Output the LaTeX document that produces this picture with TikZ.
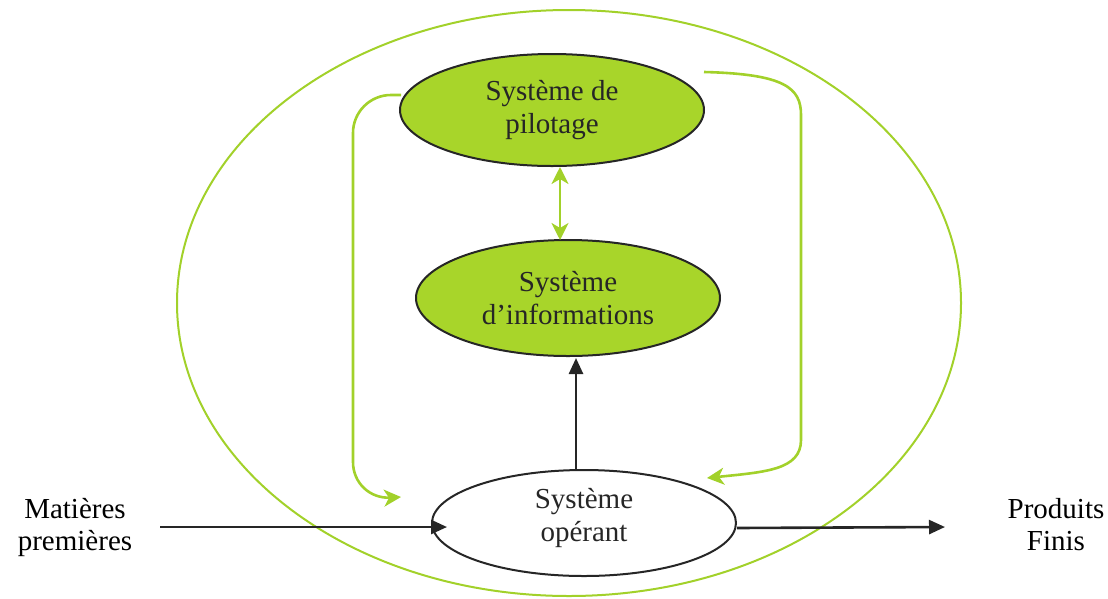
\documentclass[tikz,border=0pt]{standalone}
\usepackage{fontspec}
\setmainfont{Liberation Serif}
\usetikzlibrary{shapes.geometric,arrows.meta}
\definecolor{lime}{HTML}{A8D52A}
\definecolor{limeline}{HTML}{A2D12A}
\definecolor{ink}{HTML}{262626}
\tikzset{
  sysbox/.style={ellipse, draw=ink, line width=2pt, inner sep=0pt,
    minimum width=304pt, font=\fontsize{29}{33}\selectfont, text=ink, align=center},
  greenbox/.style={sysbox, fill=lime},
  feedback/.style={draw=limeline, line width=2.6pt, -{Stealth[length=17pt,width=17pt,inset=5pt]}},
  flow/.style={draw=ink, line width=2.6pt, -{Triangle[length=16pt,width=14pt]}},
  label/.style={font=\fontsize{29}{32}\selectfont, text=black, align=center}
}
\begin{document}
\begin{tikzpicture}[x=1pt,y=-1pt]
  \useasboundingbox (0,0) rectangle (1108,598);
  % enclosing system boundary
  \draw[limeline, line width=2pt] (569,303) ellipse [x radius=392, y radius=293];

  % subsystems
  \node[greenbox, minimum height=112pt] (pil) at (552,110) {Système de\\pilotage};
  \node[greenbox, minimum height=116pt] (inf) at (568,298) {Système\\d’informations};
  \node[sysbox, fill=white, minimum height=106pt] (ope) at (584,523) {};
  \node[sysbox, draw=none, minimum width=0pt] (opeText) at (584,518) {Système\\opérant};

  % environment
  \node[label] (mp) at (75,527) {Matières\\premières};
  \node[label] (pf) at (1056,525) {Produits\\Finis};
  \coordinate (mpEnd) at (160,527);
  \coordinate (pfEnd) at (945,527);

  % free ends of the control loops
  \coordinate (lOut) at (401,95);
  \coordinate (lIn) at (401,497);
  \coordinate (rOut) at (704,72);
  \coordinate (rIn) at (707,478);

  % pilotage <-> informations
  \draw[draw=limeline, line width=2.6pt,
        {Stealth[length=17pt,width=17pt,inset=5pt]}-{Stealth[length=17pt,width=17pt,inset=5pt]}]
        (560,167) -- (560,240);

  % opérant -> informations
  \draw[flow] (ope.north -| 576,0) -- (576,358);

  % control loops from pilotage down to opérant
  \draw[feedback, rounded corners=38pt] (lOut) -- (353,95) -- (353,500) -- (lIn);
  \draw[feedback] (rOut) .. controls (785,74) and (801,88) .. (801,115)
        -- (801,440) .. controls (801,470) and (765,472) .. (rIn);

  % material flow
  \draw[flow] (mpEnd) -- (447,527);
  \draw[flow] (737,528) -- (pfEnd);
\end{tikzpicture}
\end{document}
